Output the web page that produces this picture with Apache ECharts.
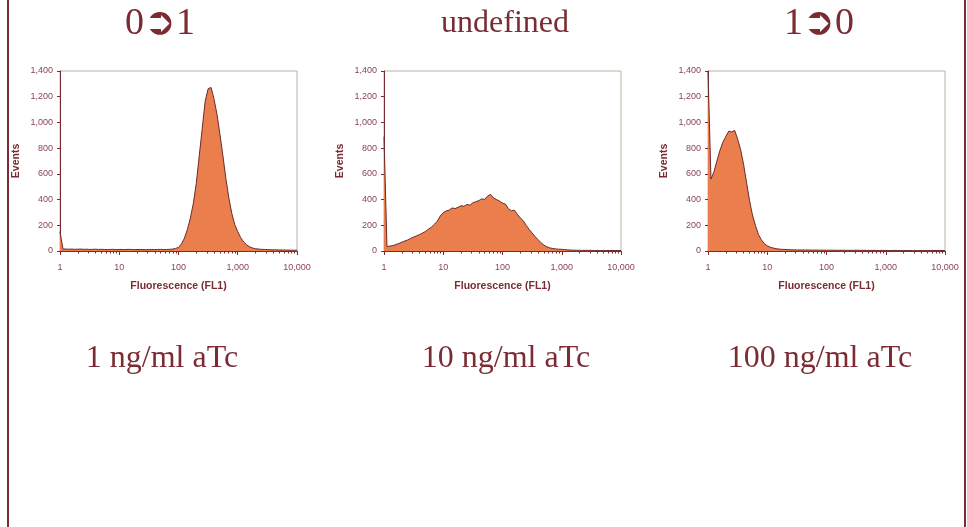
<!DOCTYPE html>
<html>
<head>
<meta charset="utf-8">
<title>FL1 histograms</title>
<script src="https://cdn.jsdelivr.net/npm/echarts@6/dist/echarts.min.js"></script>
<style>
  html, body { margin: 0; padding: 0; background: #fff; }
  #chart { width: 967px; height: 527px; }
</style>
</head>
<body>
<div id="chart"></div>
<script>
// captions above / below each histogram
var stateTitles = ['0➲1', 'undefined', '1➲0']
var doseLabels = ['1 ng/ml aTc', '10 ng/ml aTc', '100 ng/ml aTc']

// minor ticks of the log axis (2..9 in every decade)
var minorTickValues = [
    2, 3, 4, 5, 6, 7, 8, 9,
    20, 30, 40, 50, 60, 70, 80, 90,
    200, 300, 400, 500, 600, 700, 800, 900,
    2000, 3000, 4000, 5000, 6000, 7000, 8000, 9000,
]

// events per FL1 channel, 20 channels per decade, first channel at FL1 = 1
var events1ng = [
    150, 16, 15, 14, 15, 13, 14, 15, 13, 14, 12,
    13, 14, 12, 13, 12, 11, 12, 13, 11, 12,
    12, 11, 13, 12, 10, 12, 11, 12, 10, 11,
    12, 11, 12, 13, 11, 12, 13, 15, 20,
    28, 55, 100, 168, 255, 370, 525, 740, 950, 1165,
    1262, 1272, 1180, 1062, 905, 738, 562, 412, 292, 205,
    150, 104, 70, 48, 33, 23, 18,
    15, 13, 12, 11, 10, 9, 9, 8, 8, 7, 7, 6, 6, 6,
]
var events10ng = [
    890, 35, 38, 42, 50, 58, 68, 78, 86, 98,
    108, 118, 128, 140, 152, 170, 185, 208, 232, 272,
    298, 312, 318, 335, 330, 340, 352, 348, 362, 356,
    375, 383, 392, 405, 402, 428, 440, 412, 400, 388,
    372, 365, 330, 312, 318, 285, 258, 235, 200, 168,
    140, 112, 88, 64, 45, 32, 24, 19, 16, 14,
    13, 11, 9, 7,
    6, 6, 5, 5, 5, 5, 5, 4, 4, 4, 4, 4, 4, 4, 4, 4, 4,
]
var events100ng = [
    1400, 560, 615, 700, 780, 845, 890, 932, 926, 938,
    870, 790, 675, 535, 395, 280, 200, 130, 88, 58,
    40, 30, 23, 18, 15, 13, 12, 10,
    9, 9, 8, 8, 8, 7, 8, 7, 7, 7,
    6, 7, 6, 6, 6, 6, 5, 6, 5, 5,
    5, 5, 6, 5, 5, 5, 4, 5, 5, 4,
    4, 5, 4, 4, 4, 5, 4, 4, 4, 4,
    4, 4, 3, 4, 4, 4, 4, 3, 4, 4,
    4, 4, 4,
]
var panelEvents = [events1ng, events10ng, events100ng]
var channelsPerDecade = 20

var maroon = '#7a2b33'
var labelColor = '#8a4552'
var frameColor = '#bdb2a3'
var fillColor = '#ea7f4d'
var outlineColor = '#6a2a2c'

var gridLeft = [60, 384, 708]
var titleX = [160, 505, 819]
var titleSize = [38, 32, 38]
var doseX = [162, 506, 820]

function withCommas(v) {
    return String(Math.round(v)).replace(/\B(?=(\d{3})+(?!\d))/g, ',')
}

var chart = echarts.init(document.getElementById('chart'))

var grids = [], xAxes = [], yAxes = [], series = [], graphics = []

panelEvents.forEach(function (events, p) {
    grids.push({
        left: gridLeft[p],
        top: 71,
        width: 237,
        height: 180,
        show: true,
        borderColor: frameColor,
        borderWidth: 1,
        backgroundColor: '#fff',
    })
    xAxes.push({
        gridIndex: p,
        type: 'log',
        logBase: 10,
        min: 1,
        max: 10000,
        position: 'bottom',
        splitLine: { show: false },
        axisLine: { show: true, lineStyle: { color: maroon, width: 1 } },
        axisTick: { show: true, length: 4, lineStyle: { color: maroon } },
        axisLabel: {
            color: labelColor,
            fontSize: 9,
            fontFamily: 'Liberation Sans',
            margin: 12,
            formatter: withCommas,
        },
        name: 'Fluorescence (FL1)',
        nameLocation: 'middle',
        nameGap: 30,
        nameTextStyle: {
            color: maroon,
            fontSize: 10.5,
            fontWeight: 'bold',
            fontFamily: 'Liberation Sans',
        },
    })
    // second axis only for the short 2..9 ticks
    xAxes.push({
        gridIndex: p,
        type: 'log',
        logBase: 10,
        min: 1,
        max: 10000,
        position: 'bottom',
        splitLine: { show: false },
        axisLine: { show: false },
        axisLabel: { show: false },
        axisTick: {
            show: true,
            length: 2.5,
            customValues: minorTickValues,
            lineStyle: { color: maroon },
        },
    })
    yAxes.push({
        gridIndex: p,
        type: 'value',
        min: 0,
        max: 1400,
        interval: 200,
        splitLine: { show: false },
        axisLine: { show: true, lineStyle: { color: maroon, width: 1 } },
        axisTick: { show: true, length: 3, lineStyle: { color: maroon } },
        axisLabel: {
            color: labelColor,
            fontSize: 9,
            fontFamily: 'Liberation Sans',
            margin: 7,
            formatter: withCommas,
        },
        name: 'Events',
        nameLocation: 'middle',
        nameGap: 38,
        nameTextStyle: {
            color: maroon,
            fontSize: 10.5,
            fontWeight: 'bold',
            fontFamily: 'Liberation Sans',
        },
    })
    series.push({
        type: 'line',
        xAxisIndex: p * 2,
        yAxisIndex: p,
        symbol: 'none',
        smooth: false,
        clip: true,
        lineStyle: { color: outlineColor, width: 1 },
        areaStyle: { color: fillColor, opacity: 1 },
        data: events.map(function (v, k) {
            return [Math.pow(10, k / channelsPerDecade), v]
        }),
    })
    graphics.push({
        type: 'text',
        x: titleX[p],
        y: 24,
        style: {
            text: stateTitles[p],
            fill: maroon,
            font: titleSize[p] + 'px "Liberation Serif", "DejaVu Serif", "DejaVu Sans"',
            textAlign: 'center',
            textVerticalAlign: 'middle',
            align: 'center',
            verticalAlign: 'middle',
        },
    })
    graphics.push({
        type: 'text',
        x: doseX[p],
        y: 359,
        style: {
            text: doseLabels[p],
            fill: maroon,
            font: '32px "Liberation Serif"',
            textAlign: 'center',
            textVerticalAlign: 'middle',
            align: 'center',
            verticalAlign: 'middle',
        },
    })
})

// slide frame, left and right edges
graphics.push({ type: 'rect', shape: { x: 7, y: 0, width: 2, height: 527 }, style: { fill: maroon } })
graphics.push({ type: 'rect', shape: { x: 964, y: 0, width: 2, height: 527 }, style: { fill: maroon } })

chart.setOption({
    animation: false,
    backgroundColor: '#fff',
    grid: grids,
    xAxis: xAxes,
    yAxis: yAxes,
    series: series,
    graphic: graphics,
})
</script>
</body>
</html>
